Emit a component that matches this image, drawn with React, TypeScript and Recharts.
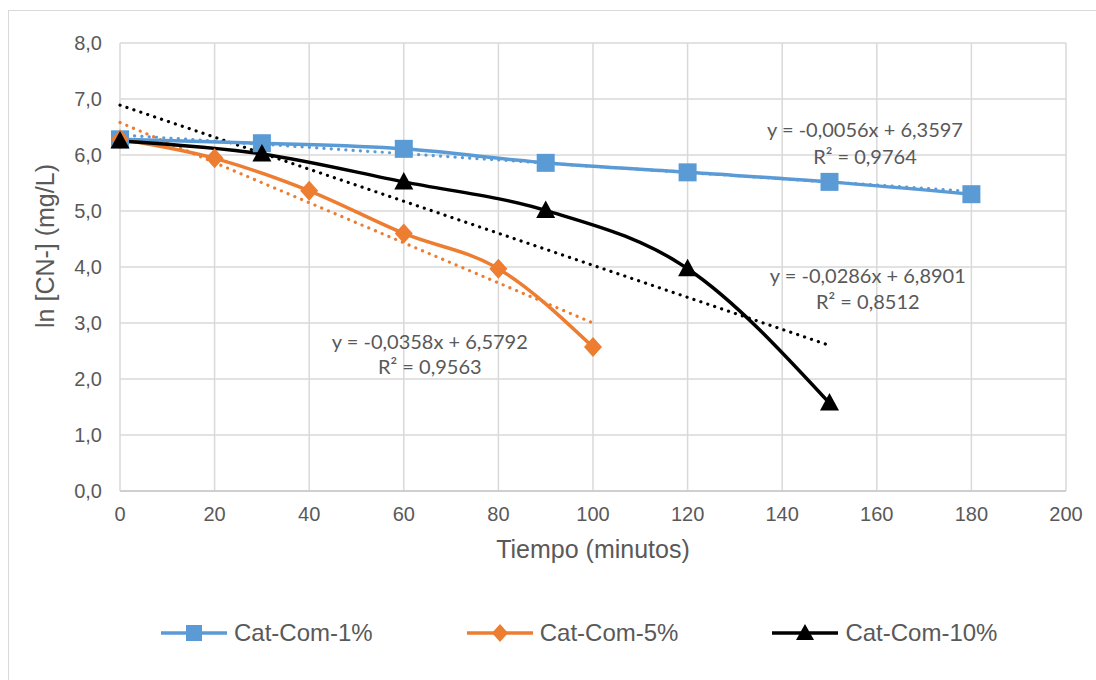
import { LineChart, Line, XAxis, YAxis, CartesianGrid, ReferenceDot } from "recharts";

// tiempo (minutos) y ln [CN-]
const tiempoCat1 = [0, 30, 60, 90, 120, 150, 180];
const lnCat1 = [6.28, 6.21, 6.11, 5.86, 5.69, 5.52, 5.3];
const tiempoCat5 = [0, 20, 40, 60, 80, 100];
const lnCat5 = [6.28, 5.94, 5.36, 4.6, 3.97, 2.57];
const tiempoCat10 = [0, 30, 60, 90, 120, 150];
const lnCat10 = [6.25, 6.02, 5.52, 5.01, 3.97, 1.57];

// lineas de tendencia (extremos)
const trendX1 = [0, 180];
const trendY1 = [6.36, 5.35];
const trendX5 = [0, 100];
const trendY5 = [6.58, 3.0];
const trendX10 = [0, 150];
const trendY10 = [6.89, 2.6];

const xTicks = [0, 20, 40, 60, 80, 100, 120, 140, 160, 180, 200];
const yTicks = [0, 1, 2, 3, 4, 5, 6, 7, 8];

const seriesNames = ["Cat-Com-1%", "Cat-Com-5%", "Cat-Com-10%"];
const eqLines = [
  ["y = -0,0056x + 6,3597", "R² = 0,9764"],
  ["y = -0,0358x + 6,5792", "R² = 0,9563"],
  ["y = -0,0286x + 6,8901", "R² = 0,8512"],
];
// anclas de las ecuaciones en coordenadas de datos
const eqAnchorX = [157.5, 65.5, 158.1];
const eqAnchorY = [
  [6.44, 5.97],
  [2.67, 2.22],
  [3.85, 3.38],
];

const toPoints = (xs: number[], ys: number[]) => xs.map((x, i) => ({ x, y: ys[i] }));

const BLUE = "#5B9BD5";
const ORANGE = "#ED7D31";
const BLACK = "#000000";
const TEXT = "#595959";
const GRID = "#D9D9D9";
const SANS = "'Liberation Sans', Arial, sans-serif";

if (typeof document !== "undefined") {
  document.documentElement.style.overflow = "hidden";
  document.body.style.overflow = "hidden";
}

const SquareDot = (p: any) => {
  if (p.cx == null || p.cy == null) return null;
  return <rect x={p.cx - 9} y={p.cy - 9} width={18} height={18} fill={BLUE} />;
};
const DiamondDot = (p: any) => {
  if (p.cx == null || p.cy == null) return null;
  const { cx, cy } = p;
  return <polygon points={`${cx},${cy - 10} ${cx + 9},${cy} ${cx},${cy + 10} ${cx - 9},${cy}`} fill={ORANGE} />;
};
const TriangleDot = (p: any) => {
  if (p.cx == null || p.cy == null) return null;
  const { cx, cy } = p;
  return <polygon points={`${cx},${cy - 10} ${cx + 9.5},${cy + 7.5} ${cx - 9.5},${cy + 7.5}`} fill={BLACK} />;
};

const YTitle = (props: any) => {
  const { x, y, height } = props.viewBox;
  const cx = x + 45;
  const cy = y + height / 2 - 21;
  return (
    <text x={cx} y={cy} transform={`rotate(-90 ${cx} ${cy})`} textAnchor="middle" fill={TEXT} fontSize={25} fontFamily={SANS}>
      ln [CN-] (mg/L)
    </text>
  );
};

const XTitle = (props: any) => {
  const { x, y, width } = props.viewBox;
  return (
    <text x={x + width / 2} y={y + 67} textAnchor="middle" fill={TEXT} fontSize={25} fontFamily={SANS}>
      Tiempo (minutos)
    </text>
  );
};

const legendColors = [BLUE, ORANGE, BLACK];

function LegendIcon({ i }: { i: number }) {
  const c = legendColors[i];
  return (
    <svg width={66} height={20} style={{ display: "block" }}>
      <line x1={0} y1={10} x2={66} y2={10} stroke={c} strokeWidth={3.5} />
      {i === 0 && <rect x={25} y={2} width={16} height={16} fill={c} />}
      {i === 1 && <polygon points="33,1 41,10 33,19 25,10" fill={c} />}
      {i === 2 && <polygon points="33,1 42,17 24,17" fill={c} />}
    </svg>
  );
}

const trendDash = { strokeDasharray: "0.1 7.2", strokeLinecap: "round" as const, strokeWidth: 3.2 };

export default function App() {
  return (
    <div style={{ position: "fixed", left: 8, top: 10, width: 1200, height: 800, background: "#fff" }}>
      <div
        style={{
          position: "absolute",
          left: 0,
          top: 0,
          width: 1200,
          height: 800,
          borderTop: `1px solid ${GRID}`,
          borderLeft: `1px solid ${GRID}`,
        }}
      />
      <div style={{ position: "absolute", left: 1, top: 1 }}>
        <LineChart width={1087} height={661} margin={{ top: 32, right: 30, left: 0, bottom: 0 }}>
          <CartesianGrid stroke={GRID} strokeWidth={1.5} />
          <XAxis
            type="number"
            dataKey="x"
            domain={[0, 200]}
            ticks={xTicks}
            height={181}
            tickSize={0}
            tickMargin={16}
            axisLine={{ stroke: "#C8C8C8", strokeWidth: 1.5 }}
            tickLine={false}
            tick={{ fill: TEXT, fontSize: 20, fontFamily: SANS }}
            label={<XTitle />}
          />
          <YAxis
            type="number"
            dataKey="y"
            domain={[0, 8]}
            ticks={yTicks}
            width={111}
            tickSize={0}
            tickMargin={18}
            axisLine={false}
            tickLine={false}
            tick={{ fill: TEXT, fontSize: 20, fontFamily: SANS }}
            tickFormatter={(v: number) => v.toFixed(1).replace(".", ",")}
            label={<YTitle />}
          />
          <Line data={toPoints(trendX1, trendY1)} dataKey="y" stroke={BLUE} {...trendDash} dot={false} isAnimationActive={false} />
          <Line data={toPoints(trendX5, trendY5)} dataKey="y" stroke={ORANGE} {...trendDash} dot={false} isAnimationActive={false} />
          <Line data={toPoints(trendX10, trendY10)} dataKey="y" stroke={BLACK} {...trendDash} dot={false} isAnimationActive={false} />
          <Line
            data={toPoints(tiempoCat1, lnCat1)}
            dataKey="y"
            name={seriesNames[0]}
            type="monotone"
            stroke={BLUE}
            strokeWidth={3.5}
            dot={<SquareDot />}
            activeDot={false}
            isAnimationActive={false}
          />
          <Line
            data={toPoints(tiempoCat5, lnCat5)}
            dataKey="y"
            name={seriesNames[1]}
            type="monotone"
            stroke={ORANGE}
            strokeWidth={3.5}
            dot={<DiamondDot />}
            activeDot={false}
            isAnimationActive={false}
          />
          <Line
            data={toPoints(tiempoCat10, lnCat10)}
            dataKey="y"
            name={seriesNames[2]}
            type="monotone"
            stroke={BLACK}
            strokeWidth={3.5}
            dot={<TriangleDot />}
            activeDot={false}
            isAnimationActive={false}
          />
          {eqLines.map((lines, i) =>
            lines.map((txt, j) => (
              <ReferenceDot
                key={`eq-${i}-${j}`}
                x={eqAnchorX[i]}
                y={eqAnchorY[i][j]}
                r={0}
                fill="none"
                stroke="none"
                label={{ value: txt, position: "center", fill: TEXT, fontSize: 20, fontFamily: "Lato, 'Open Sans', sans-serif" }}
              />
            ))
          )}
        </LineChart>
        <div
          style={{
            position: "absolute",
            left: 152,
            top: 608,
            display: "flex",
            alignItems: "center",
            gap: 94,
            fontFamily: SANS,
            fontSize: 24,
            color: TEXT,
            whiteSpace: "nowrap",
          }}
        >
          {seriesNames.map((n, i) => (
            <div key={n} style={{ display: "flex", alignItems: "center", gap: 7 }}>
              <LegendIcon i={i} />
              <span>{n}</span>
            </div>
          ))}
        </div>
      </div>
    </div>
  );
}
